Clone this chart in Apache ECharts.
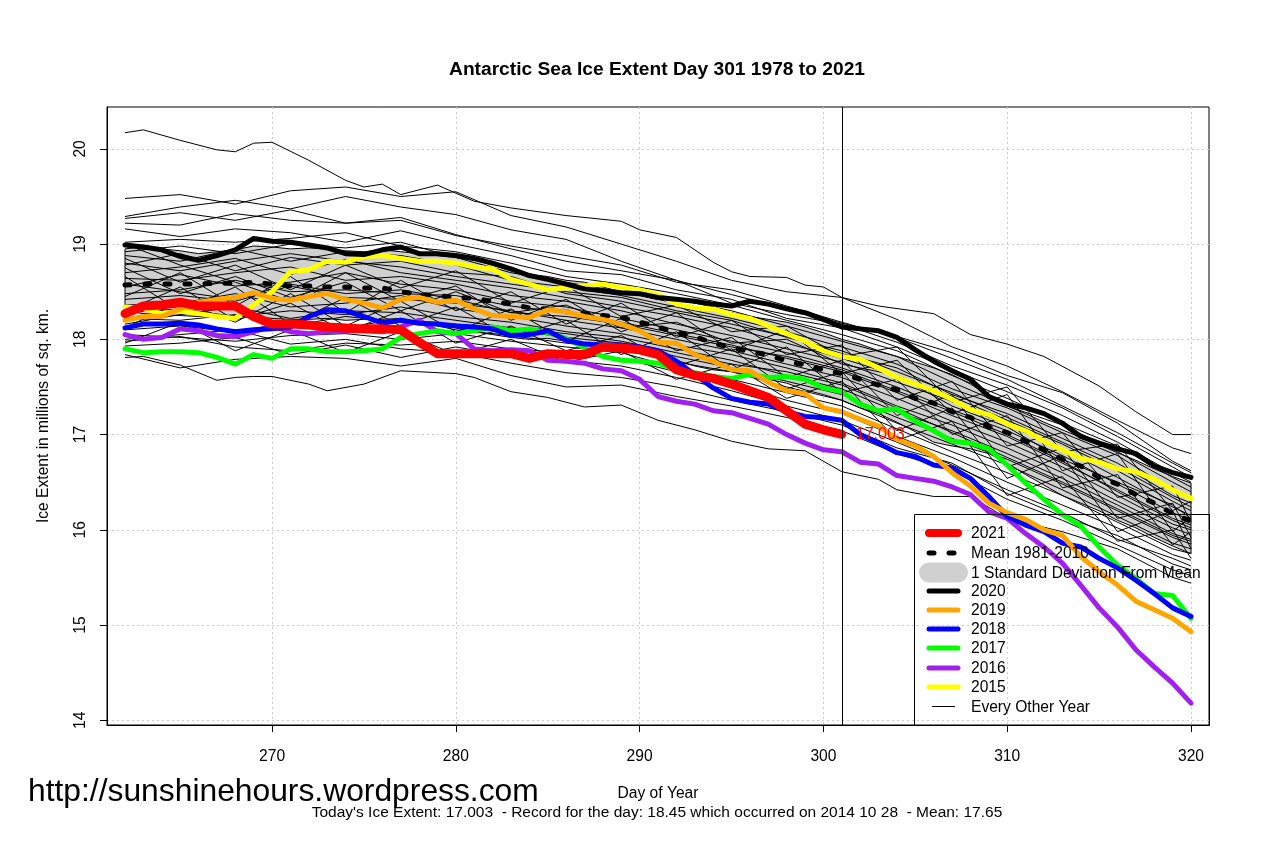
<!DOCTYPE html>
<html style="height: 100%">
<head>
    <meta charset="utf-8">
    <script src="https://cdn.jsdelivr.net/npm/echarts@6/dist/echarts.min.js"></script>
</head>
<body style="height: 100%; margin: 0; background: #fff">
    <div id="main" style="width: 1279px; height: 852px"></div>
    <script type="text/javascript">
        // days 262..320, one value per day
        var days = [262,263,264,265,266,267,268,269,270,271,272,273,274,275,276,277,278,279,280,281,282,283,284,285,286,287,288,289,290,291,292,293,294,295,296,297,298,299,300,301,302,303,304,305,306,307,308,309,310,311,312,313,314,315,316,317,318,319,320];
        var xTicks = [270, 280, 290, 300, 310, 320];
        var yTicks = [14, 15, 16, 17, 18, 19, 20];
        var todayDay = 301;
        var todayText = '17.003';

        var y2021 = [18.27,18.35,18.36,18.39,18.35,18.35,18.35,18.24,18.16,18.16,18.15,18.13,18.12,18.11,18.11,18.10,17.97,17.85,17.85,17.85,17.85,17.85,17.80,17.85,17.84,17.84,17.92,17.91,17.89,17.84,17.68,17.62,17.59,17.53,17.46,17.39,17.25,17.11,17.05,17.003];
        var y2020 = [18.99,18.97,18.94,18.87,18.83,18.88,18.94,19.06,19.03,19.02,18.99,18.96,18.90,18.89,18.94,18.97,18.90,18.90,18.88,18.85,18.80,18.74,18.67,18.63,18.58,18.53,18.51,18.49,18.48,18.44,18.42,18.40,18.37,18.35,18.40,18.37,18.32,18.28,18.21,18.13,18.11,18.09,18.02,17.89,17.77,17.67,17.58,17.40,17.32,17.28,17.22,17.12,16.98,16.91,16.85,16.80,16.67,16.60,16.55];
        var y2019 = [18.20,18.24,18.24,18.32,18.39,18.42,18.44,18.49,18.43,18.41,18.45,18.48,18.42,18.38,18.33,18.42,18.44,18.39,18.41,18.32,18.25,18.24,18.23,18.31,18.29,18.24,18.21,18.16,18.09,17.97,17.96,17.84,17.77,17.68,17.67,17.55,17.46,17.43,17.28,17.24,17.16,17.09,16.95,16.88,16.77,16.60,16.46,16.28,16.18,16.11,16.00,15.94,15.72,15.56,15.42,15.25,15.16,15.07,14.93];
        var y2018 = [18.12,18.16,18.16,18.17,18.15,18.11,18.08,18.10,18.11,18.13,18.24,18.31,18.30,18.24,18.17,18.20,18.17,18.16,18.14,18.13,18.11,18.04,18.05,18.09,17.99,17.95,17.94,17.94,17.92,17.88,17.77,17.63,17.49,17.38,17.34,17.32,17.24,17.19,17.18,17.15,17.00,16.91,16.81,16.77,16.68,16.65,16.54,16.35,16.14,16.05,15.98,15.86,15.82,15.70,15.60,15.47,15.33,15.18,15.09];
        var y2017 = [17.90,17.86,17.87,17.87,17.86,17.81,17.74,17.84,17.80,17.90,17.90,17.87,17.87,17.88,17.90,18.02,18.06,18.09,18.06,18.09,18.13,18.09,18.11,18.07,18.01,17.91,17.82,17.78,17.77,17.75,17.68,17.65,17.61,17.59,17.63,17.60,17.61,17.58,17.49,17.45,17.32,17.25,17.27,17.14,17.04,16.93,16.91,16.85,16.68,16.49,16.32,16.16,16.04,15.82,15.63,15.49,15.33,15.31,15.07];
        var y2016 = [18.05,18.00,18.02,18.11,18.09,18.04,18.03,18.08,18.14,18.08,18.06,18.08,18.09,18.09,18.08,18.13,18.20,18.08,18.06,17.90,17.88,17.89,17.88,17.78,17.77,17.75,17.69,17.67,17.58,17.40,17.35,17.32,17.25,17.23,17.17,17.11,17.00,16.91,16.84,16.82,16.71,16.69,16.57,16.54,16.51,16.45,16.37,16.19,16.12,15.96,15.82,15.65,15.42,15.18,14.98,14.74,14.56,14.39,14.18];
        var y2015 = [18.34,18.32,18.27,18.30,18.27,18.24,18.22,18.36,18.50,18.71,18.73,18.82,18.81,18.87,18.88,18.85,18.82,18.82,18.80,18.76,18.74,18.63,18.58,18.52,18.54,18.56,18.58,18.54,18.52,18.47,18.37,18.33,18.32,18.26,18.22,18.14,18.06,17.98,17.88,17.82,17.79,17.70,17.60,17.53,17.46,17.37,17.26,17.21,17.11,17.04,16.93,16.84,16.75,16.71,16.64,16.61,16.53,16.42,16.33];
        var meanLine = [18.57,18.58,18.58,18.58,18.58,18.59,18.59,18.60,18.58,18.56,18.56,18.55,18.55,18.54,18.54,18.50,18.47,18.46,18.44,18.43,18.40,18.37,18.33,18.32,18.29,18.27,18.25,18.23,18.18,18.13,18.07,18.03,17.96,17.91,17.87,17.84,17.77,17.73,17.68,17.64,17.58,17.52,17.47,17.38,17.33,17.24,17.18,17.08,17.02,16.93,16.84,16.74,16.67,16.55,16.48,16.37,16.28,16.17,16.09];
        var sdUpper = [18.95,18.97,18.95,18.93,18.90,18.92,18.94,18.98,18.97,18.95,18.96,18.95,18.93,18.92,18.94,18.92,18.90,18.88,18.86,18.83,18.78,18.72,18.68,18.66,18.62,18.60,18.55,18.50,18.46,18.42,18.38,18.34,18.31,18.28,18.24,18.21,18.18,18.13,18.07,18.00,17.95,17.88,17.82,17.76,17.70,17.63,17.53,17.41,17.30,17.22,17.13,17.05,16.97,16.89,16.81,16.73,16.64,16.56,16.49];
        var sdLower = [18.30,18.27,18.26,18.25,18.24,18.24,18.25,18.24,18.22,18.21,18.21,18.22,18.20,18.21,18.21,18.22,18.17,18.15,18.12,18.08,18.05,18.02,18.00,18.01,17.98,17.96,17.94,17.92,17.90,17.85,17.78,17.72,17.68,17.66,17.62,17.58,17.54,17.47,17.42,17.36,17.28,17.22,17.13,17.03,16.92,16.88,16.85,16.80,16.70,16.58,16.47,16.36,16.28,16.20,16.10,16.02,15.92,15.83,15.75];

        // the highest and lowest thin lines stand clear of the pack, read at their kinks
        var topLineDays = [262,263,265,267,268,269,270,272,274,275,276,277,279,281,283,286,289,290,292,294,295,296,298,299,300,301,303,306,308,310,312,315,317,319,320];
        var topLine = [20.17,20.20,20.09,19.99,19.97,20.06,20.07,19.88,19.67,19.60,19.63,19.52,19.62,19.45,19.38,19.30,19.24,19.15,19.07,18.81,18.71,18.66,18.65,18.57,18.55,18.44,18.35,18.27,18.05,17.95,17.82,17.51,17.24,17.00,17.00];
        var lowLineDays = [262,263,265,267,268,269,270,272,273,275,277,280,281,283,285,287,289,291,293,295,297,299,301,303,304,306,308,310,313,316,319,320];
        var lowLine = [17.81,17.82,17.73,17.57,17.60,17.61,17.61,17.53,17.46,17.53,17.67,17.64,17.60,17.45,17.39,17.29,17.31,17.15,17.05,16.93,16.85,16.83,16.61,16.53,16.42,16.35,16.35,16.12,15.98,15.80,15.50,15.44];

        // the other "every other year" lines, read every third day
        var thinDays = [262,265,268,271,274,277,280,283,286,289,292,295,298,301,304,307,310,313,316,319,320];
        var thinYears = [
            [19.48,19.52,19.42,19.56,19.60,19.50,19.55,19.30,19.18,19.00,18.82,18.62,18.50,18.44,18.21,17.92,17.72,17.45,17.15,16.86,16.80],
            [19.29,19.39,19.46,19.37,19.50,19.39,19.31,19.15,19.05,18.82,18.62,18.47,18.32,18.17,18.03,17.86,17.62,17.44,17.12,16.72,16.62],
            [19.27,19.33,19.25,19.36,19.22,19.25,19.09,18.98,18.88,18.78,18.60,18.52,18.35,18.18,18.02,17.80,17.58,17.30,17.02,16.70,16.60],
            [19.22,19.20,19.32,19.25,19.22,19.28,19.10,18.95,18.82,18.72,18.62,18.38,18.26,18.16,17.97,17.72,17.52,17.28,16.98,16.66,16.55],
            [19.16,19.08,19.16,19.12,19.02,19.14,19.00,18.88,18.72,18.68,18.52,18.42,18.22,18.12,17.92,17.68,17.45,17.20,16.92,16.60,16.50],
            [19.02,19.05,19.02,19.06,19.12,18.98,18.92,18.80,18.66,18.58,18.48,18.36,18.20,18.05,17.88,17.62,17.38,17.12,16.88,16.55,16.45],
            [18.92,18.98,18.90,19.00,18.96,19.02,18.86,18.70,18.60,18.50,18.42,18.30,18.14,17.98,17.82,17.55,17.30,17.10,16.82,16.50,16.40],
            [18.88,18.82,18.95,18.82,18.92,18.88,18.78,18.62,18.55,18.46,18.34,18.22,18.08,17.92,17.74,17.48,17.28,17.02,16.78,16.42,16.35],
            [18.78,18.90,18.72,18.86,18.78,18.82,18.70,18.66,18.48,18.40,18.28,18.16,18.03,17.85,17.70,17.42,17.22,16.96,16.70,16.36,16.28],
            [18.70,18.76,18.85,18.68,18.84,18.70,18.62,18.54,18.44,18.34,18.24,18.12,17.96,17.80,17.62,17.40,17.15,16.90,16.62,16.30,16.20],
            [18.64,18.62,18.70,18.76,18.62,18.66,18.58,18.46,18.40,18.30,18.16,18.04,17.90,17.76,17.55,17.35,17.10,16.85,16.55,16.24,16.15],
            [18.55,18.68,18.56,18.60,18.70,18.58,18.52,18.40,18.34,18.22,18.10,17.98,17.86,17.70,17.50,17.26,17.04,16.78,16.48,16.18,16.10],
            [18.48,18.52,18.62,18.50,18.52,18.48,18.46,18.35,18.28,18.18,18.06,17.94,17.80,17.66,17.44,17.20,16.98,16.70,16.42,16.12,16.05],
            [18.42,18.46,18.40,18.56,18.44,18.42,18.38,18.30,18.20,18.12,18.00,17.88,17.74,17.60,17.38,17.14,16.92,16.66,16.36,16.06,16.00],
            [18.36,18.38,18.48,18.34,18.38,18.46,18.32,18.24,18.14,18.06,17.94,17.84,17.70,17.54,17.30,17.10,16.86,16.60,16.30,16.02,15.95],
            [18.28,18.32,18.24,18.30,18.26,18.34,18.24,18.18,18.08,18.02,17.90,17.78,17.62,17.48,17.24,17.04,16.80,16.54,16.26,15.96,15.90],
            [18.22,18.20,18.26,18.14,18.24,18.18,18.16,18.10,18.02,17.96,17.82,17.70,17.56,17.42,17.18,16.96,16.74,16.48,16.20,15.92,15.85],
            [18.10,18.14,18.08,18.18,18.12,18.22,18.10,18.04,17.96,17.90,17.76,17.66,17.50,17.36,17.12,16.90,16.68,16.42,16.14,15.86,15.80],
            [18.05,18.02,17.98,18.04,18.06,18.00,18.06,17.98,17.92,17.86,17.70,17.58,17.44,17.30,17.06,16.82,16.60,16.36,16.08,15.80,15.75],
            [17.98,18.03,17.92,17.88,17.96,17.94,17.98,17.90,17.86,17.80,17.66,17.54,17.36,17.22,16.98,16.76,16.50,16.26,16.02,15.74,15.68],
            [17.93,17.96,18.02,17.84,17.94,17.81,17.92,17.82,17.78,17.72,17.60,17.46,17.30,17.15,16.92,16.68,16.42,16.18,15.90,15.70,15.62],
            [17.84,17.70,17.79,17.82,17.80,17.72,17.80,17.62,17.50,17.52,17.40,17.30,17.18,17.04,16.80,16.62,16.32,16.10,15.84,15.58,15.52],
            [18.00,18.05,18.10,17.95,18.00,17.90,17.86,17.75,17.65,17.60,17.50,17.36,17.24,17.10,16.86,16.70,16.38,16.14,15.94,15.64,15.58],
            [18.80,18.72,18.82,18.90,18.82,18.76,18.66,18.58,18.50,18.44,18.30,18.20,18.02,17.88,17.66,17.44,17.18,16.92,16.66,16.34,16.24],
            [18.58,18.50,18.42,18.58,18.48,18.52,18.42,18.28,18.24,18.16,18.04,17.92,17.82,17.68,17.46,17.24,17.00,16.72,16.40,16.10,16.02],
            [18.16,18.26,18.34,18.22,18.30,18.28,18.20,18.12,18.06,17.98,17.86,17.74,17.66,17.52,17.28,17.02,16.76,16.50,16.22,15.94,15.88],
            [18.85,18.60,18.78,18.52,18.78,18.54,18.72,18.38,18.56,18.24,18.36,18.08,18.14,17.82,17.92,17.34,17.50,16.82,16.90,16.20,16.30],
            [18.45,18.70,18.35,18.66,18.28,18.62,18.30,18.50,18.16,18.38,18.02,18.20,17.84,17.94,17.36,17.56,16.88,17.02,16.34,16.46,16.08],
            [18.12,18.40,18.18,18.48,18.14,18.40,18.08,18.32,17.98,18.22,17.88,18.02,17.60,17.78,17.20,17.42,16.66,16.86,16.12,16.28,15.92],
            [19.00,18.78,18.60,18.40,18.70,18.40,18.56,18.20,18.42,18.08,18.28,17.88,18.10,17.64,17.78,17.22,17.42,16.62,16.80,15.98,16.14],
            [18.30,18.55,18.20,18.38,18.08,18.30,17.96,18.14,17.88,18.04,17.72,17.90,17.48,17.66,17.04,17.28,16.54,16.78,15.98,16.20,15.80],
            [18.66,18.30,18.55,18.16,18.44,18.14,18.34,18.02,18.20,17.84,18.08,17.68,17.92,17.44,17.58,17.00,17.20,16.44,16.58,15.84,15.98],
            [17.96,18.18,17.88,18.10,17.86,18.08,17.84,18.00,17.76,17.88,17.58,17.74,17.38,17.56,16.94,17.14,16.36,16.56,15.88,16.00,15.70],
            [18.75,18.48,18.66,18.44,18.60,18.30,18.50,18.28,18.36,18.12,18.18,17.96,18.00,17.74,17.62,17.30,17.08,16.74,16.50,16.26,16.12]
        ];

        var legendLabels = ['2021', 'Mean 1981-2010', '1 Standard Deviation From Mean', '2020', '2019', '2018', '2017', '2016', '2015', 'Every Other Year'];

        var fontName = '"Liberation Sans", Arial, sans-serif';

        function pairs(xs, ys) {
            return ys.map(function (v, i) { return [xs[i], v]; });
        }

        function thick(name, values, color, width) {
            return {
                name: name, type: 'line', data: pairs(days, values), symbol: 'none',
                lineStyle: { color: color, width: width, cap: 'round', join: 'round' },
                silent: true
            };
        }

        function thin(xs, vals) {
            return {
                type: 'line', data: pairs(xs, vals), symbol: 'none', silent: true,
                lineStyle: { color: '#000', width: 1 }
            };
        }

        var series = [];

        // standard deviation band, outlined like the polygon in the original
        series.push({
            type: 'custom',
            silent: true,
            data: [0],
            renderItem: function (params, api) {
                var pts = [];
                days.forEach(function (d, i) { pts.push(api.coord([d, sdUpper[i]])); });
                for (var i = days.length - 1; i >= 0; i--) { pts.push(api.coord([days[i], sdLower[i]])); }
                return { type: 'polygon', shape: { points: pts }, style: { fill: '#d0d0d0', stroke: '#000', lineWidth: 1 } };
            }
        });

        series.push(thin(topLineDays, topLine));
        series.push(thin(lowLineDays, lowLine));
        thinYears.forEach(function (vals) {
            series.push(thin(thinDays, vals));
        });

        var meanSeries = thick('mean', meanLine, '#000', 5);
        meanSeries.lineStyle.type = [5, 15];
        series.push(meanSeries);

        series.push(thick('2015', y2015, '#ffff00', 5));
        series.push(thick('2016', y2016, '#a020f0', 5));
        series.push(thick('2017', y2017, '#00ff00', 5));
        series.push(thick('2018', y2018, '#0000ff', 5));
        series.push(thick('2019', y2019, '#ffa500', 5));
        series.push(thick('2020', y2020, '#000', 5));

        var redSeries = thick('2021', y2021, '#ff0000', 9);
        redSeries.endLabel = { show: true, formatter: todayText, color: '#ff0000', fontSize: 16, fontFamily: fontName, distance: 14 };
        redSeries.markLine = {
            silent: true, symbol: 'none', animation: false,
            label: { show: false },
            lineStyle: { color: '#000', width: 1, type: 'solid' },
            data: [{ xAxis: todayDay }]
        };
        series.push(redSeries);

        // legend, drawn by hand because of the mixed swatch sizes
        var legendY = [533, 553, 572.5, 591, 610, 629, 648, 668, 687, 706.5];
        var graphic = [
            { type: 'rect', shape: { x: 914.5, y: 514.5, width: 295, height: 211 }, style: { fill: 'none', stroke: '#000', lineWidth: 1 }, z: 50 },
            { type: 'text', style: { x: 28, y: 792, text: 'http://sunshinehours.wordpress.com', font: '31.8px ' + fontName, fill: '#000', textVerticalAlign: 'middle' }, z: 60 },
            { type: 'text', style: { x: 657, y: 813, text: "Today's Ice Extent: 17.003  - Record for the day: 18.45 which occurred on 2014 10 28  - Mean: 17.65", font: '15.5px ' + fontName, fill: '#000', textAlign: 'center', textVerticalAlign: 'middle' }, z: 60 }
        ];
        var swatch = [
            { color: '#ff0000', w: 8 }, null, { color: '#d0d0d0', w: 20 }, { color: '#000', w: 5 },
            { color: '#ffa500', w: 5 }, { color: '#0000ff', w: 5 }, { color: '#00ff00', w: 5 },
            { color: '#a020f0', w: 5 }, { color: '#ffff00', w: 5 }, { color: '#000', w: 1 }
        ];
        legendLabels.forEach(function (label, i) {
            var y = legendY[i];
            graphic.push({ type: 'text', style: { x: 971, y: y + 1, text: label, font: '15.6px ' + fontName, fill: '#000', textVerticalAlign: 'middle' }, z: 60 });
            if (i === 1) {
                graphic.push({ type: 'line', shape: { x1: 929, y1: y, x2: 934, y2: y }, style: { stroke: '#000', lineWidth: 5, lineCap: 'round' }, z: 55 });
                graphic.push({ type: 'line', shape: { x1: 949, y1: y, x2: 954, y2: y }, style: { stroke: '#000', lineWidth: 5, lineCap: 'round' }, z: 55 });
            } else {
                var s = swatch[i];
                var inset = s.w === 1 ? 3 : 0;
                graphic.push({ type: 'line', shape: { x1: 929 + inset, y1: y, x2: 958 - inset, y2: y }, style: { stroke: s.color, lineWidth: s.w, lineCap: s.w === 1 ? 'butt' : 'round' }, z: 55 });
            }
        });

        var axisFont = { color: '#000', fontSize: 15.6, fontFamily: fontName };

        var myChart = echarts.init(document.getElementById('main'));
        myChart.setOption({
            animation: false,
            backgroundColor: '#fff',
            title: {
                text: 'Antarctic Sea Ice Extent Day 301 1978 to 2021',
                left: 652, top: 55, textAlign: 'center',
                textStyle: { fontSize: 19.2, fontWeight: 'bold', color: '#000', fontFamily: fontName }
            },
            grid: { left: 107, top: 107, width: 1102, height: 618, show: true, borderColor: '#000', borderWidth: 1, backgroundColor: 'transparent' },
            xAxis: {
                type: 'value', min: 261.02, max: 320.98,
                name: 'Day of Year', nameLocation: 'middle', nameGap: 61,
                nameTextStyle: { color: '#000', fontSize: 15.6, fontFamily: fontName },
                axisLine: { onZero: false, lineStyle: { color: '#000', width: 1 } },
                axisTick: { length: 7, inside: false, lineStyle: { color: '#000' }, customValues: xTicks },
                axisLabel: Object.assign({ margin: 24, customValues: xTicks, showMinLabel: true, showMaxLabel: true }, axisFont),
                splitLine: { show: true, lineStyle: { color: '#cccccc', type: [2, 3], width: 1 } }
            },
            yAxis: {
                type: 'value', min: 13.95, max: 20.44,
                name: 'Ice Extent in millions of sq. km.', nameLocation: 'middle', nameGap: 55,
                nameTextStyle: { color: '#000', fontSize: 15.6, fontFamily: fontName },
                axisLine: { show: true, onZero: false, lineStyle: { color: '#000', width: 1 } },
                axisTick: { show: true, length: 7, lineStyle: { color: '#000' }, customValues: yTicks },
                axisLabel: Object.assign({ margin: 18, rotate: 90, customValues: yTicks }, axisFont),
                splitLine: { show: true, lineStyle: { color: '#cccccc', type: [2, 3], width: 1 } }
            },
            series: series,
            graphic: graphic
        });
    </script>
</body>
</html>
